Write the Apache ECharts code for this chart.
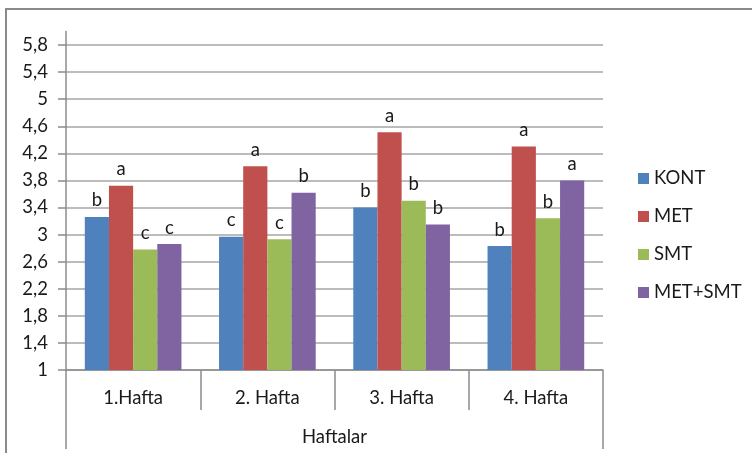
<!DOCTYPE html>
<html><head><meta charset="utf-8">
<script src="https://cdn.jsdelivr.net/npm/echarts@6/dist/echarts.min.js"></script>
<style>
html,body{margin:0;padding:0;background:#fff;}
#wrap{position:relative;width:752px;height:453px;overflow:hidden;}
#chart{position:absolute;left:0;top:0;width:752px;height:453px;}
#frame{position:absolute;left:5px;top:8px;width:800px;height:500px;border-left:2px solid #8a8a8a;border-top:2px solid #8a8a8a;pointer-events:none;}
</style></head>
<body><div id="wrap"><div id="chart"></div><div id="frame"></div></div>
<script>
const categories = ['1.Hafta', '2. Hafta', '3. Hafta', '4. Hafta'];
const axisTitle = 'Haftalar';
const seriesNames = ['KONT', 'MET', 'SMT', 'MET+SMT'];
const kont = [3.26, 2.97, 3.40, 2.83];
const met = [3.72, 4.01, 4.51, 4.30];
const smt = [2.78, 2.93, 3.50, 3.24];
const metSmt = [2.86, 3.62, 3.15, 3.80];
const kontLetters = ['b', 'c', 'b', 'b'];
const metLetters = ['a', 'a', 'a', 'a'];
const smtLetters = ['c', 'c', 'b', 'b'];
const metSmtLetters = ['c', 'b', 'b', 'a'];
const colors = ['#4F81BD', '#C0504D', '#9BBB59', '#8064A2'];

const FONT = 'Lato';
const FS = 18.5;
const values = [kont, met, smt, metSmt];
const letters = [kontLetters, metLetters, smtLetters, metSmtLetters];

const splitColors = [];
for (let i = 0; i < 13; i++) splitColors.push('#a6a6a6');
splitColors.push('rgba(0,0,0,0)');

const chart = echarts.init(document.getElementById('chart'));
chart.setOption({
  animation: false,
  color: colors,
  textStyle: { fontFamily: FONT },
  grid: { left: 66, right: 149, top: 31.5, bottom: 83 },
  legend: {
    orient: 'vertical', left: 633, top: 164,
    icon: 'rect', itemWidth: 11, itemHeight: 11, itemGap: 19,
    textStyle: { fontFamily: FONT, fontSize: FS, color: '#1a1a1a' },
    data: seriesNames
  },
  xAxis: [{
    type: 'category', data: categories, position: 'bottom',
    axisLine: { lineStyle: { color: '#8c8c8c', width: 1.5 } },
    axisTick: { show: true, length: 40, interval: 0, lineStyle: { color: '#8c8c8c', width: 1.5 } },
    axisLabel: { margin: 19, fontSize: FS, color: '#1a1a1a', fontFamily: FONT }
  }, {
    type: 'category', data: [axisTitle], position: 'bottom',
    axisLine: { show: false },
    axisTick: { show: true, length: 79, lineStyle: { color: '#8c8c8c', width: 1.5 } },
    axisLabel: { margin: 58, fontSize: FS, color: '#1a1a1a', fontFamily: FONT }
  }],
  yAxis: {
    type: 'value', min: 1, max: 6, interval: 0.4,
    axisLine: { show: true, lineStyle: { color: '#8c8c8c', width: 1.5 } },
    axisTick: { show: true, length: 8, lineStyle: { color: '#8c8c8c', width: 1.5 } },
    splitLine: { show: true, lineStyle: { color: splitColors, width: 1.5 } },
    axisLabel: {
      margin: 18, fontSize: FS, color: '#1a1a1a', fontFamily: FONT,
      showMaxLabel: false,
      formatter: v => String(+v.toFixed(1)).replace('.', ',')
    }
  },
  series: seriesNames.map((name, si) => ({
    name, type: 'bar', xAxisIndex: 0,
    barGap: '0%', barCategoryGap: '28%',
    data: values[si],
    label: {
      show: true, position: 'top', distance: 7,
      fontSize: FS, color: '#1a1a1a', fontFamily: FONT,
      formatter: p => letters[si][p.dataIndex]
    }
  }))
});
</script></body></html>
